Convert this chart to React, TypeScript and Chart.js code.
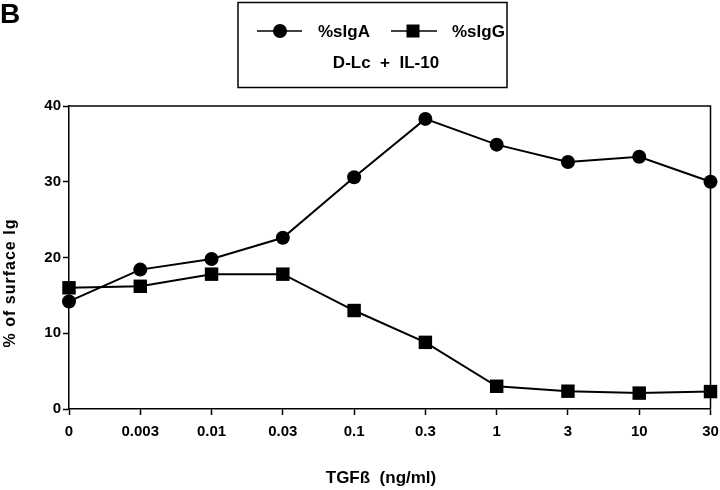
import React, { useEffect, useRef } from "react";
import { Chart, registerables } from "chart.js";

Chart.register(...registerables);

const categories = ["0", "0.003", "0.01", "0.03", "0.1", "0.3", "1", "3", "10", "30"];
const sIgA = [14.2, 18.4, 19.8, 22.6, 30.6, 38.3, 34.9, 32.6, 33.3, 30.0];
const sIgG = [16.0, 16.2, 17.8, 17.8, 13.0, 8.8, 3.0, 2.35, 2.1, 2.3];
const seriesNames = ["%sIgA", "%sIgG"];
const legendSubtitle = "D-Lc  +  IL-10";
const panelLabel = "B";
const xTitle = "TGFß  (ng/ml)";
const yTitle = "% of surface Ig";

const FONT = "'Liberation Sans', Arial, Helvetica, sans-serif";

const decorPlugin = {
  id: "decor",
  beforeDatasetsDraw(chart: any) {
    const { ctx, chartArea } = chart;
    ctx.save();
    ctx.strokeStyle = "#000";
    ctx.lineWidth = 1.5;
    ctx.beginPath();
    ctx.moveTo(chartArea.left, chartArea.top);
    ctx.lineTo(chartArea.right, chartArea.top);
    ctx.lineTo(chartArea.right, chartArea.bottom);
    ctx.stroke();
    ctx.restore();
  },
  afterDraw(chart: any) {
    const { ctx } = chart;
    ctx.save();
    ctx.fillStyle = "#000";
    ctx.strokeStyle = "#000";
    // Panel label
    ctx.font = `bold 28px ${FONT}`;
    ctx.textAlign = "left";
    ctx.textBaseline = "alphabetic";
    ctx.fillText(panelLabel, 0, 23);

    // Legend box
    ctx.lineWidth = 1.5;
    ctx.strokeRect(238, 2.5, 269, 85);
    // entry 1: circle
    ctx.beginPath();
    ctx.moveTo(257, 31);
    ctx.lineTo(302, 31);
    ctx.stroke();
    ctx.beginPath();
    ctx.arc(280, 31, 7, 0, Math.PI * 2);
    ctx.fill();
    // entry 2: square
    ctx.beginPath();
    ctx.moveTo(391, 31);
    ctx.lineTo(437, 31);
    ctx.stroke();
    ctx.fillRect(413 - 6.5, 31 - 6.5, 13, 13);
    ctx.font = `bold 17px ${FONT}`;
    ctx.textBaseline = "middle";
    ctx.textAlign = "left";
    ctx.fillText(seriesNames[0], 318, 32);
    ctx.fillText(seriesNames[1], 452, 32);
    ctx.textAlign = "center";
    ctx.fillText(legendSubtitle, 386, 63);

    // X title
    ctx.font = `bold 17px ${FONT}`;
    ctx.textAlign = "center";
    ctx.textBaseline = "middle";
    ctx.fillText(xTitle, 381, 478);

    // Y title
    ctx.translate(11, 283);
    ctx.rotate(-Math.PI / 2);
    ctx.font = `bold 16px ${FONT}`;
    try {
      (ctx as any).letterSpacing = "1px";
    } catch (e) {}
    ctx.textAlign = "center";
    ctx.textBaseline = "middle";
    ctx.fillText(yTitle, 0, 0);
    ctx.restore();
  },
};

export default function App() {
  const canvasRef = useRef<HTMLCanvasElement | null>(null);

  useEffect(() => {
    const canvas = canvasRef.current;
    if (!canvas) return;
    const chart = new Chart(canvas, {
      type: "line",
      data: {
        labels: categories,
        datasets: [
          {
            label: seriesNames[0],
            data: sIgA,
            borderColor: "#000",
            backgroundColor: "#000",
            borderWidth: 2,
            pointStyle: "circle",
            pointRadius: 7,
            pointBorderWidth: 0,
            pointBackgroundColor: "#000",
            tension: 0,
            clip: false as any,
          },
          {
            label: seriesNames[1],
            data: sIgG,
            borderColor: "#000",
            backgroundColor: "#000",
            borderWidth: 2,
            pointStyle: "rect",
            pointRadius: 9.5,
            pointBorderWidth: 0,
            pointBackgroundColor: "#000",
            tension: 0,
            clip: false as any,
          },
        ],
      },
      options: {
        responsive: false,
        animation: false,
        devicePixelRatio: 1,
        layout: { padding: { top: 106, right: 0, left: 0, bottom: 0 } },
        plugins: {
          legend: { display: false },
          tooltip: { enabled: false },
          title: { display: false },
        },
        scales: {
          x: {
            type: "category",
            offset: false,
            afterFit: (s: any) => {
              s.height = 81;
              s.paddingRight = 6;
            },
            grid: {
              display: true,
              drawOnChartArea: false,
              drawTicks: true,
              tickLength: 6,
              tickWidth: 1.5,
              tickColor: "#000",
            },
            border: { display: true, color: "#000", width: 1.5 },
            ticks: {
              color: "#000",
              font: { family: FONT, size: 15, weight: "bold" },
              padding: 8,
              maxRotation: 0,
              autoSkip: false,
            },
          },
          y: {
            min: 0,
            max: 40,
            afterFit: (s: any) => {
              s.width = 69;
            },
            grid: {
              display: true,
              drawOnChartArea: false,
              drawTicks: true,
              tickLength: 6,
              tickWidth: 1.5,
              tickColor: "#000",
            },
            border: { display: true, color: "#000", width: 1.5 },
            ticks: {
              stepSize: 10,
              color: "#000",
              font: { family: FONT, size: 15, weight: "bold" },
              padding: 2,
            },
          },
        },
      },
      plugins: [decorPlugin],
    });
    return () => chart.destroy();
  }, []);

  return (
    <div style={{ position: "fixed", left: 0, top: 0, width: 720, height: 490, background: "#fff" }}>
      <canvas ref={canvasRef} width={720} height={490} style={{ width: 720, height: 490, display: "block" }} />
    </div>
  );
}
